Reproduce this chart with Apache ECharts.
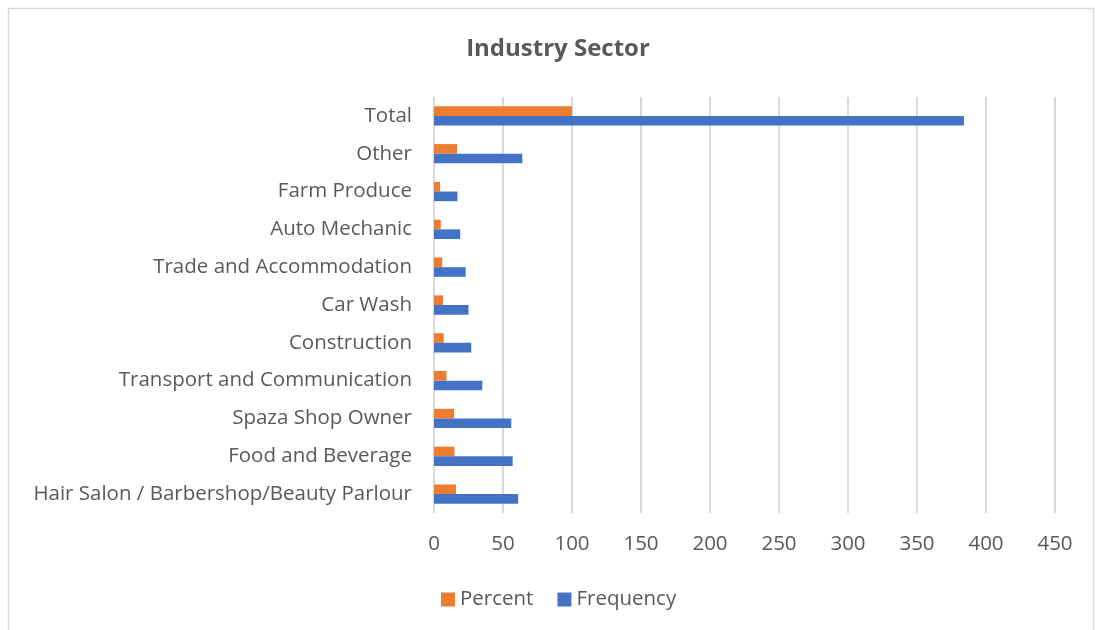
<!DOCTYPE html>
<html>
<head>
<meta charset="utf-8">
<script src="https://cdn.jsdelivr.net/npm/echarts@6/dist/echarts.min.js"></script>
<style>
  html, body { margin: 0; padding: 0; background: #fff; }
  #chart { width: 1095px; height: 630px; }
</style>
</head>
<body>
<div id="chart"></div>
<script>
// Industry sectors, listed bottom to top
const categories = [
  'Hair Salon / Barbershop/Beauty Parlour',
  'Food and Beverage',
  'Spaza Shop Owner',
  'Transport and Communication',
  'Construction',
  'Car Wash',
  'Trade and Accommodation',
  'Auto Mechanic',
  'Farm Produce',
  'Other',
  'Total'
];
const percentValues = [15.9, 14.8, 14.6, 9.1, 7.0, 6.5, 6.0, 4.9, 4.4, 16.7, 100];
const frequencyValues = [61, 57, 56, 35, 27, 25, 23, 19, 17, 64, 384];
const seriesNames = ['Percent', 'Frequency'];

const FONT = '"Open Sans", "Noto Sans", sans-serif';
const TEXT = '#595959';
const LABEL_SIZE = 20.5;

const chart = echarts.init(document.getElementById('chart'));
chart.setOption({
  animation: false,
  backgroundColor: '#ffffff',
  graphic: [{
    type: 'rect',
    shape: { x: 8.5, y: 8.5, width: 1085, height: 640 },
    style: { fill: 'none', stroke: '#d9d9d9', lineWidth: 1.5 },
    silent: true,
    z: -1
  }],
  title: {
    text: 'Industry Sector',
    left: 553,
    textAlign: 'center',
    top: 32,
    textStyle: { fontFamily: FONT, fontSize: 24, fontWeight: 'bold', color: TEXT }
  },
  legend: {
    data: seriesNames,
    left: 436,
    top: 584,
    itemWidth: 14,
    itemHeight: 14,
    itemGap: 24,
    icon: 'rect',
    textStyle: { fontFamily: FONT, fontSize: LABEL_SIZE, color: TEXT }
  },
  grid: { left: 434, right: 40, top: 97, bottom: 117, containLabel: false },
  xAxis: {
    type: 'value',
    min: 0,
    max: 450,
    interval: 50,
    axisLine: { show: false },
    axisTick: { show: false },
    splitLine: { lineStyle: { color: '#d9d9d9', width: 2 } },
    axisLabel: { fontFamily: FONT, fontSize: LABEL_SIZE, color: TEXT, margin: 21 }
  },
  yAxis: {
    type: 'category',
    data: categories,
    axisLine: { show: false },
    axisTick: { show: false },
    axisLabel: { fontFamily: FONT, fontSize: LABEL_SIZE, color: TEXT, margin: 22 }
  },
  series: [
    {
      name: seriesNames[0],
      type: 'bar',
      data: percentValues,
      itemStyle: { color: '#ED7D31' },
      barGap: '0%',
      barCategoryGap: '49%'
    },
    {
      name: seriesNames[1],
      type: 'bar',
      data: frequencyValues,
      itemStyle: { color: '#4472C4' },
      barGap: '0%',
      barCategoryGap: '49%'
    }
  ]
});
</script>
</body>
</html>
